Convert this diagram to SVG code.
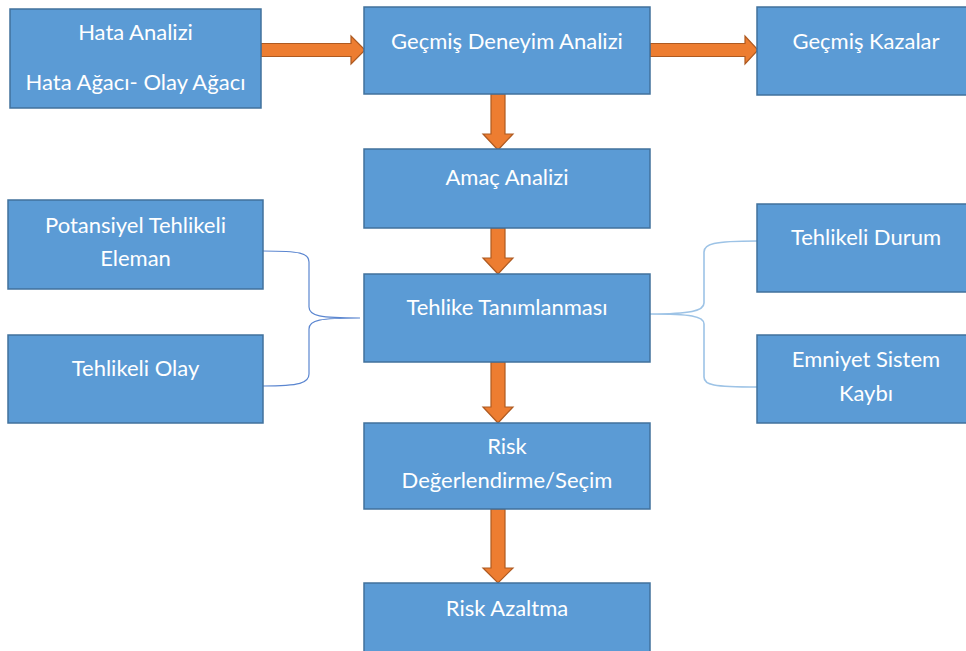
<svg xmlns="http://www.w3.org/2000/svg" width="966" height="651" viewBox="0 0 966 651">
  <style>
    .box { fill: #5b9bd5; stroke: #41719c; stroke-width: 1.5; }
    .lbl { fill: #ffffff; font-family: Lato, "Open Sans", "Liberation Sans", sans-serif; font-size: 22px; text-anchor: middle; }
    .arrow { fill: #ed7d31; stroke: #ae5a21; stroke-width: 1.2; stroke-linejoin: miter; }
    .brace-l { fill: none; stroke: #5b86d0; stroke-width: 1.2; }
    .brace-r { fill: none; stroke: #9dc3e6; stroke-width: 1.6; }
  </style>
  <rect width="966" height="651" fill="#ffffff"/>

  <!-- connectors -->
  <g id="connectors">
    <!-- horizontal block arrows -->
    <polygon class="arrow" points="261,43.5 351,43.5 351,36 365,50 351,64 351,56.5 261,56.5"/>
    <polygon class="arrow" points="650,43.5 745,43.5 745,36 758,50 745,64 745,56.5 650,56.5"/>
    <!-- vertical block arrows -->
    <polygon class="arrow" points="491,94 505,94 505,134 513,134 498,150 483,134 491,134"/>
    <polygon class="arrow" points="491,228 505,228 505,258 513,258 498,274 483,258 491,258"/>
    <polygon class="arrow" points="491,362 505,362 505,407 513,407 498,423 483,407 491,407"/>
    <polygon class="arrow" points="491,509 505,509 505,568 513,568 498,583 483,568 491,568"/>
    <!-- left brace -->
    <path class="brace-l" d="M263,251 C300,251 309,253 309,262 L309,307 C309,316 320,318 360,318 C320,318 309,320 309,329 L309,374 C309,383 300,386 263,386"/>
    <!-- right brace -->
    <path class="brace-r" d="M757,241 C713,241 704,244 704,252 L704,303 C704,311 690,314 650,314 C690,314 704,316 704,324 L704,377 C704,385 713,387 757,387"/>
  </g>

  <g id="hata-analizi">
    <rect class="box" x="10" y="9" width="251" height="99"/>
    <text class="lbl" x="135.5" y="40">Hata Analizi</text>
    <text class="lbl" x="135.5" y="90">Hata Ağacı- Olay Ağacı</text>
  </g>

  <g id="gecmis-deneyim">
    <rect class="box" x="364" y="7" width="286" height="87"/>
    <text class="lbl" x="507" y="49">Geçmiş Deneyim Analizi</text>
  </g>

  <g id="gecmis-kazalar">
    <rect class="box" x="757" y="7" width="220" height="88"/>
    <text class="lbl" x="866" y="49">Geçmiş Kazalar</text>
  </g>

  <g id="amac-analizi">
    <rect class="box" x="364" y="149" width="286" height="79"/>
    <text class="lbl" x="507" y="185">Amaç Analizi</text>
  </g>

  <g id="potansiyel">
    <rect class="box" x="8" y="200" width="255" height="89"/>
    <text class="lbl" x="135.5" y="233">Potansiyel Tehlikeli</text>
    <text class="lbl" x="135.5" y="266">Eleman</text>
  </g>

  <g id="tehlikeli-olay">
    <rect class="box" x="8" y="335" width="255" height="88"/>
    <text class="lbl" x="135.5" y="376">Tehlikeli Olay</text>
  </g>

  <g id="tehlike-tanimlanmasi">
    <rect class="box" x="364" y="274" width="286" height="88"/>
    <text class="lbl" x="507" y="315">Tehlike Tanımlanması</text>
  </g>

  <g id="tehlikeli-durum">
    <rect class="box" x="757" y="204" width="220" height="88"/>
    <text class="lbl" x="866" y="245">Tehlikeli Durum</text>
  </g>

  <g id="emniyet-sistem">
    <rect class="box" x="757" y="335" width="220" height="88"/>
    <text class="lbl" x="866" y="367">Emniyet Sistem</text>
    <text class="lbl" x="866" y="401">Kaybı</text>
  </g>

  <g id="risk-degerlendirme">
    <rect class="box" x="364" y="423" width="286" height="86"/>
    <text class="lbl" x="507" y="454">Risk</text>
    <text class="lbl" x="507" y="488">Değerlendirme/Seçim</text>
  </g>

  <g id="risk-azaltma">
    <rect class="box" x="364" y="583" width="286" height="80"/>
    <text class="lbl" x="507" y="616">Risk Azaltma</text>
  </g>
</svg>
